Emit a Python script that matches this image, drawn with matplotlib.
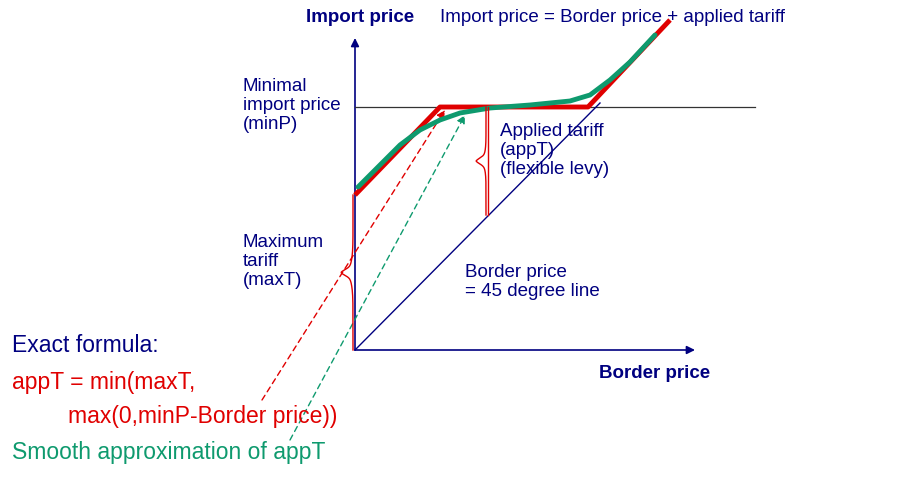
import matplotlib.pyplot as plt
from matplotlib.patches import FancyArrowPatch
import numpy as np

plt.rcParams['font.family'] = ['Liberation Sans', 'DejaVu Sans']

# data units: border price (x), import price (y)
min_p = 2.43
max_t = 1.55
axis_x_end = 3.40
axis_y_end = 3.12

exact_x = [0.0, 0.85, 2.33, 3.15]
exact_y = [1.55, 2.43, 2.43, 3.30]

smooth_x = [0.03, 0.25, 0.45, 0.65, 0.85, 1.05, 1.35, 1.75, 2.15, 2.35, 2.55, 2.75, 3.00]
smooth_y = [1.63, 1.85, 2.05, 2.20, 2.30, 2.37, 2.42, 2.45, 2.49, 2.55, 2.70, 2.88, 3.15]

diag_x = [0.0, 2.45]
diag_y = [0.0, 2.47]

NAVY = '#000080'
RED = '#E00000'
GREEN = '#0E9A6E'

fig = plt.figure(figsize=(9, 4.92), dpi=100)
ax = fig.add_axes([0, 0, 1, 1])
ax.set_xlim(-3.55, 5.45)
ax.set_ylim(-1.42, 3.50)
ax.axis('off')

# axes with arrows
for end in [(axis_x_end, 0), (0, axis_y_end)]:
    ax.add_patch(FancyArrowPatch((0, 0), end, arrowstyle='-|>', mutation_scale=12,
                                 color=NAVY, lw=1.2, shrinkA=0, shrinkB=0))

ax.plot([0, 4.0], [min_p, min_p], color='#333333', lw=0.9)
ax.plot(diag_x, diag_y, color=NAVY, lw=1)

ax.plot(exact_x, exact_y, color=RED, lw=3.5, solid_capstyle='butt')
ax.plot(smooth_x, smooth_y, color=GREEN, lw=3.5, solid_capstyle='round')

# applied tariff vertical
ax.plot([1.33, 1.33], [min_p, 1.35], color=RED, lw=1)


def brace(x, y0, y1, w):
    ym = (y0 + y1) / 2
    ys = np.linspace(y0, y1, 200)
    d = np.abs(ys - ym) / ((y1 - y0) / 2)
    xs = x - w * 0.5 * (1 - d) ** 8 - w * 0.5 * np.exp(-((ys - ym) / 0.04) ** 2)
    ax.plot(xs, ys, color=RED, lw=1)


brace(-0.02, 0.0, max_t, 0.12)
brace(1.31, 1.35, min_p, 0.10)

# dashed arrows
ax.add_patch(FancyArrowPatch((-0.93, -0.50), (0.90, 2.40), arrowstyle='-|>', mutation_scale=12,
                             color=RED, lw=1, linestyle=(0, (4, 3)), shrinkA=0, shrinkB=0))
ax.add_patch(FancyArrowPatch((-0.65, -0.90), (1.10, 2.35), arrowstyle='-|>', mutation_scale=12,
                             color=GREEN, lw=1, linestyle=(0, (4, 3)), shrinkA=0, shrinkB=0))

fs = 13.5
ls = 1.15
ax.text(0.05, 3.32, 'Import price', color=NAVY, fontsize=fs, fontweight='bold', ha='center', va='center')
ax.text(3.55, -0.24, 'Border price', color=NAVY, fontsize=fs, fontweight='bold', ha='right', va='center')
ax.text(0.85, 3.33, 'Import price = Border price + applied tariff', color=NAVY, fontsize=fs, va='center')
ax.text(-1.12, 2.72, 'Minimal\nimport price\n(minP)', color=NAVY, fontsize=fs, va='top', linespacing=ls)
ax.text(1.45, 2.27, 'Applied tariff\n(appT)\n(flexible levy)', color=NAVY, fontsize=fs, va='top', linespacing=ls)
ax.text(-1.12, 1.16, 'Maximum\ntariff\n(maxT)', color=NAVY, fontsize=fs, va='top', linespacing=ls)
ax.text(1.10, 0.86, 'Border price\n= 45 degree line', color=NAVY, fontsize=fs, va='top', linespacing=ls)

fl = 16.5
ax.text(-3.43, 0.05, 'Exact formula:', color=NAVY, fontsize=fl, va='center')
ax.text(-3.43, -0.32, 'appT = min(maxT,', color=RED, fontsize=fl, va='center')
ax.text(-2.87, -0.67, 'max(0,minP-Border price))', color=RED, fontsize=fl, va='center')
ax.text(-3.43, -1.02, 'Smooth approximation of appT', color=GREEN, fontsize=fl, va='center')

fig.savefig('out.png', dpi=100)
